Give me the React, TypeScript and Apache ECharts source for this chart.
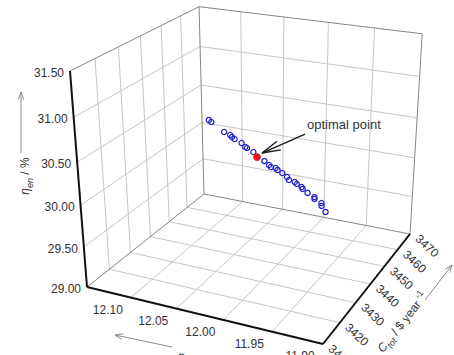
import React, { useEffect, useRef } from 'react';
import * as echarts from 'echarts';

// ---- data ----
const etaEx = [12.102, 12.097, 12.078, 12.069, 12.066, 12.062, 12.052, 12.046, 12.043, 12.034, 12.019, 12.012, 12.009, 12.003, 12.0, 11.994, 11.988, 11.985, 11.978, 11.975, 11.969, 11.967, 11.961, 11.953, 11.952, 11.944, 11.943, 11.938];
const costTot = [3452, 3451, 3449, 3448, 3447.5, 3447, 3446, 3445, 3444.5, 3443.5, 3442, 3441, 3440.5, 3440, 3439.5, 3439, 3438.5, 3438, 3437.5, 3437, 3436.5, 3436, 3435.5, 3435, 3434.5, 3434, 3433.5, 3433];
const etaEn = [30.4, 30.398, 30.34, 30.335, 30.325, 30.316, 30.302, 30.28, 30.282, 30.267, 30.212, 30.196, 30.187, 30.196, 30.187, 30.171, 30.145, 30.124, 30.124, 30.116, 30.102, 30.092, 30.067, 30.044, 30.034, 30.012, 29.99, 29.94];
const optEtaEx = [12.028];
const optCost = [3442.5];
const optEtaEn = [30.235];

const xTicks = [12.15, 12.1, 12.05, 12.0, 11.95, 11.9];
const xLabels = ['', '12.10', '12.05', '12.00', '11.95', '11.90'];
const yTicks = [3410, 3420, 3430, 3440, 3450, 3460, 3470];
const yLabels = ['3410', '3420', '3430', '3440', '3450', '3460', '3470'];
const zTicks = [29.0, 29.5, 30.0, 30.5, 31.0, 31.5];
const zLabels = ['29.00', '29.50', '30.00', '30.50', '31.00', '31.50'];

// ---- 3D box placement on the page (screen positions of the box corners) ----
const O = [87, 287], U = [323, 344], V = [204, 194], W = [70, 71], UV = [410, 234], VW = [199, 5];

function det3(m: number[][]) {
  return m[0][0] * (m[1][1] * m[2][2] - m[1][2] * m[2][1]) - m[0][1] * (m[1][0] * m[2][2] - m[1][2] * m[2][0]) + m[0][2] * (m[1][0] * m[2][1] - m[1][1] * m[2][0]);
}
function solve3(c1: number[], c2: number[], c3: number[], r: number[]) {
  const M = [[c1[0], c2[0], c3[0]], [c1[1], c2[1], c3[1]], [c1[2], c2[2], c3[2]]];
  const d = det3(M);
  const rep = (k: number) => M.map((row, i) => row.map((v, j) => (j === k ? r[i] : v)));
  return [det3(rep(0)) / d, det3(rep(1)) / d, det3(rep(2)) / d];
}
const h = (p: number[]) => [p[0], p[1], 1];
const p4 = h(O);
const s1 = solve3(h(U), h(V), h(UV).map((v) => -v), p4);
const s2 = solve3(h(V), h(W), h(VW).map((v) => -v), p4);
const p1 = h(U).map((v, i) => s1[0] * v - p4[i]);
const p2 = h(V).map((v, i) => s1[1] * v - p4[i]);
const p3 = h(W).map((v, i) => s2[1] * v - p4[i]);
function proj(u: number, v: number, w: number) {
  const P = [0, 1, 2].map((i) => p4[i] + u * p1[i] + v * p2[i] + w * p3[i]);
  return [P[0] / P[2], P[1] / P[2]];
}
const xMin = xTicks[0], xMax = xTicks[xTicks.length - 1];
const yMin = yTicks[0], yMax = yTicks[yTicks.length - 1];
const zMin = zTicks[0], zMax = zTicks[zTicks.length - 1];
const nu = (x: number) => (x - xMin) / (xMax - xMin);
const nv = (y: number) => (y - yMin) / (yMax - yMin);
const nw = (z: number) => (z - zMin) / (zMax - zMin);
const projData = (x: number, y: number, z: number) => proj(nu(x), nv(y), nw(z));

const FONT = 'Liberation Sans, Arial, sans-serif';

function arrowEls(tail: number[], tip: number[], len: number, ang: number, stroke: string, lw: number) {
  const dx = tail[0] - tip[0], dy = tail[1] - tip[1];
  const d = Math.hypot(dx, dy);
  const ux = dx / d, uy = dy / d;
  const barb = (s: number) => {
    const c = Math.cos(s * ang), sn = Math.sin(s * ang);
    return [tip[0] + len * (ux * c - uy * sn), tip[1] + len * (ux * sn + uy * c)];
  };
  const b1 = barb(1), b2 = barb(-1);
  return [
    { type: 'line', shape: { x1: tail[0], y1: tail[1], x2: tip[0], y2: tip[1] }, style: { stroke, lineWidth: lw } },
    { type: 'polyline', shape: { points: [b1, tip, b2] }, style: { stroke, lineWidth: lw, fill: null } },
  ];
}

export default function App() {
  const ref = useRef<HTMLDivElement>(null);
  useEffect(() => {
    const chart = echarts.init(ref.current!, null, { renderer: 'svg' });
    const els: any[] = [];
    const L = (p: number[], q: number[], stroke: string, lw: number) => {
      const A = proj(p[0], p[1], p[2]), B = proj(q[0], q[1], q[2]);
      els.push({ type: 'line', shape: { x1: A[0], y1: A[1], x2: B[0], y2: B[1] }, style: { stroke, lineWidth: lw } });
    };
    const grid = '#c6c6c6';
    const edge = '#858585';
    // left wall (x = min)
    yTicks.slice(1, -1).forEach((y) => L([0, nv(y), 0], [0, nv(y), 1], grid, 1));
    zTicks.slice(1, -1).forEach((z) => L([0, 0, nw(z)], [0, 1, nw(z)], grid, 1));
    // back wall (y = max)
    xTicks.slice(1, -1).forEach((x) => L([nu(x), 1, 0], [nu(x), 1, 1], grid, 1));
    zTicks.slice(1, -1).forEach((z) => L([0, 1, nw(z)], [1, 1, nw(z)], grid, 1));
    // floor
    xTicks.slice(1, -1).forEach((x) => L([nu(x), 0, 0], [nu(x), 1, 0], grid, 1));
    yTicks.slice(1, -1).forEach((y) => L([0, nv(y), 0], [1, nv(y), 0], grid, 1));
    // box edges
    L([0, 0, 0], [0, 1, 0], edge, 1);
    L([0, 1, 0], [1, 1, 0], edge, 1);
    L([0, 1, 0], [0, 1, 1], edge, 1);
    L([0, 0, 1], [0, 1, 1], edge, 1);
    L([0, 1, 1], [1, 1, 1], edge, 1);
    L([1, 1, 0], [1, 1, 1], edge, 1);
    // axes
    L([0, 0, 0], [0, 0, 1], '#111', 2);
    L([0, 0, 0], [1, 0, 0], '#111', 2);
    L([1, 0, 0], [1, 1, 0], '#111', 2);

    const txt = (x: number, y: number, text: string, extra: any, rotation = 0) => ({
      type: 'text', x, y, rotation,
      style: { text, fill: '#333', fontSize: 12, fontFamily: FONT, ...extra },
    });
    // tick labels
    zTicks.forEach((z, i) => {
      const p = proj(0, 0, nw(z));
      els.push(txt(p[0] - 6, p[1] + 2, zLabels[i], { align: 'right', verticalAlign: 'middle', textAlign: 'right', textVerticalAlign: 'middle' }));
    });
    xTicks.forEach((x, i) => {
      if (!xLabels[i]) return;
      const p = proj(nu(x), 0, 0);
      els.push(txt(p[0] - 23, p[1] + 12, xLabels[i], { align: 'center', verticalAlign: 'middle', textAlign: 'center', textVerticalAlign: 'middle' }));
    });
    yTicks.forEach((y, i) => {
      const p = proj(1, nv(y), 0);
      els.push(txt(p[0] + 17, p[1] + 12, yLabels[i], { align: 'center', verticalAlign: 'middle', textAlign: 'center', textVerticalAlign: 'middle' }, -0.75));
    });

    // axis titles with arrows
    const axisGray = '#8c8c8c';
    els.push(...arrowEls([21, 153], [21, 92], 8, 0.35, axisGray, 1));
    els.push(...arrowEls([172, 347], [115, 335], 8, 0.35, axisGray, 1));
    els.push(...arrowEls([425, 300], [452, 265], 8, 0.35, axisGray, 1));
    const rich = {
      i: { fontSize: 12, fontFamily: FONT, fill: '#333', fontStyle: 'italic', lineHeight: 18 },
      n: { fontSize: 12, fontFamily: FONT, fill: '#333', lineHeight: 18 },
      sub: { fontSize: 9, fontFamily: FONT, fill: '#333', fontStyle: 'italic', verticalAlign: 'bottom', lineHeight: 10 },
      sup: { fontSize: 9, fontFamily: FONT, fill: '#333', verticalAlign: 'top', lineHeight: 10 },
    };
    els.push({ type: 'text', x: 25, y: 176, rotation: Math.PI / 2, style: { text: '{i|η}{sub|en}{n| / %}', rich, align: 'center', verticalAlign: 'middle', textAlign: 'center', textVerticalAlign: 'middle' } });
    els.push({ type: 'text', x: 178, y: 355, rotation: -0.237, style: { text: '{i|η}{sub|ex}{n| / %}', rich, align: 'left', verticalAlign: 'middle', textAlign: 'left', textVerticalAlign: 'middle' } });
    els.push({ type: 'text', x: 425, y: 294, rotation: 0.9, style: { text: '{i|C}{sub|tot}{n| / $ year}{sup| -1}', rich, align: 'right', verticalAlign: 'middle', textAlign: 'right', textVerticalAlign: 'middle' } });

    // annotation
    const rp = projData(optEtaEx[0], optCost[0], optEtaEn[0]);
    const tip = [rp[0] + 5, rp[1] - 4];
    const tail = [tip[0] + 43, tip[1] - 19];
    els.push(...arrowEls(tail, tip, 19, 0.25, '#1a1a1a', 1.4));
    els.push({ type: 'text', x: tail[0] + 2, y: tail[1] - 10, style: { text: 'optimal point', fill: '#333', fontSize: 13, fontFamily: FONT, align: 'left', verticalAlign: 'middle', textAlign: 'left', textVerticalAlign: 'middle' } });

    const blueData = etaEx.map((x, i) => [x, costTot[i], etaEn[i]]);
    const redData = optEtaEx.map((x, i) => [x, optCost[i], optEtaEn[i]]);

    chart.setOption({
      animation: false,
      series: [
        { type: 'custom', coordinateSystem: 'none', silent: true, data: [[0]], renderItem: () => ({ type: 'group', children: els }) },
        {
          type: 'custom', coordinateSystem: 'none', silent: true, data: blueData,
          renderItem: (_p: any, api: any) => {
            const s = projData(api.value(0), api.value(1), api.value(2));
            return { type: 'circle', shape: { cx: s[0], cy: s[1], r: 2.6 }, style: { fill: 'rgba(255,255,255,0)', stroke: '#2626d0', lineWidth: 1.3 } };
          },
        },
        {
          type: 'custom', coordinateSystem: 'none', silent: true, data: redData,
          renderItem: (_p: any, api: any) => {
            const s = projData(api.value(0), api.value(1), api.value(2));
            return { type: 'circle', shape: { cx: s[0], cy: s[1], r: 3.6 }, style: { fill: '#e8141a', stroke: '#e8141a', lineWidth: 0.5 } };
          },
        },
      ],
    });
    return () => chart.dispose();
  }, []);
  return (
    <div style={{ position: 'fixed', left: 0, top: 0, width: 454, height: 355, background: '#fff' }}>
      <div ref={ref} style={{ width: 454, height: 355 }} />
    </div>
  );
}
